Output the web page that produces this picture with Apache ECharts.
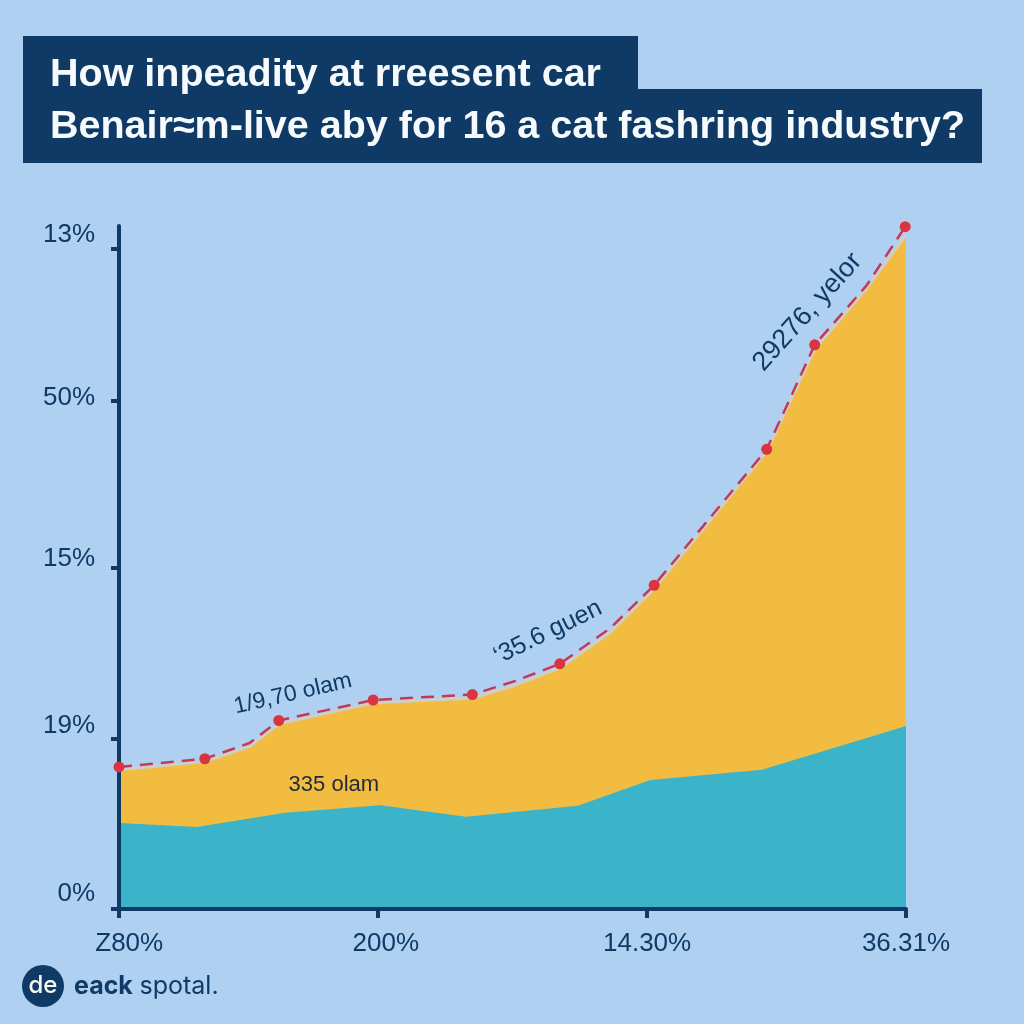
<!DOCTYPE html>
<html><head><meta charset="utf-8">
<style>html,body{margin:0;padding:0;background:#AFD0F0}#c{width:1024px;height:1024px}</style>
<script src="https://cdn.jsdelivr.net/npm/echarts@6/dist/echarts.min.js"></script>
</head><body><div id="c"></div>
<script>
const titleLines = ["How inpeadity at rreesent car", "Benair\u2248m-live aby for 16 a cat fashring industry?"];
const yTickValues = [0, 24.9, 49.9, 74.4, 96.7];
const yLabelValues = [2.2, 26.8, 51.2, 74.8, 98.7];
const yLabels = ["0%", "19%", "15%", "50%", "13%"];
const xTickValues = [0, 32.9, 67.1, 100];
const xLabelValues = [1.3, 33.9, 67.1, 100];
const xLabels = ["Z80%", "200%", "14.30%", "36.31%"];
const redX = [0, 10.9, 16.6, 20.3, 32.3, 44.9, 50.4, 56.0, 62.4, 68.0, 82.3, 88.4, 95.0, 99.9];
const redY = [20.8, 22.0, 24.3, 27.6, 30.6, 31.4, 33.4, 35.9, 41.1, 47.4, 67.3, 82.6, 91.3, 99.9];
const redDot = [1, 1, 0, 1, 1, 1, 0, 1, 0, 1, 1, 1, 0, 1];
const yellowX = [0, 10.9, 16.6, 20.3, 32.3, 44.9, 50.4, 56.0, 62.4, 68.0, 82.3, 88.4, 95.0, 100];
const yellowY = [20.4, 21.6, 23.8, 27.1, 30.2, 30.9, 32.8, 35.3, 40.5, 46.9, 67.0, 82.0, 90.9, 98.7];
const tealX = [0, 9.9, 21.1, 33.2, 44.1, 58.3, 67.5, 81.7, 100];
const tealY = [12.6, 12.0, 14.1, 15.2, 13.5, 15.1, 18.9, 20.4, 26.8];
const notes = [
  {text: "1/9,70 olam", x: 22.1, y: 31.5, rotate: 13, size: 23},
  {text: "335 olam", x: 27.3, y: 18.2, rotate: 0, size: 22, color: "#1d2b3a"},
  {text: "\u201835.6 guen", x: 54.5, y: 40.5, rotate: 26, size: 25},
  {text: "29276, yelor", x: 87.5, y: 87.4, rotate: 48, size: 27}
];
const zip = (a, b) => a.map((v, i) => [v, b[i]]);
const navy = "#0F3A66";
const chart = echarts.init(document.getElementById("c"), null, {renderer: "canvas"});
chart.setOption({
  animation: false,
  backgroundColor: "#AFD0F0",
  textStyle: {fontFamily: "Liberation Sans"},
  title: {
    text: titleLines.join("\n"), left: 45, top: 44,
    textStyle: {color: "#F7FAFC", fontSize: 39.5, fontWeight: "bold", lineHeight: 52, fontFamily: "Liberation Sans"}
  },
  grid: {left: 119, right: 118, top: 226, bottom: 115},
  xAxis: {
    type: "value", min: 0, max: 100, splitLine: {show: false}, z: 10,
    axisLine: {show: true, lineStyle: {color: navy, width: 4}},
    axisTick: {show: true, customValues: xTickValues, length: 9, lineStyle: {color: navy, width: 4}},
    axisLabel: {customValues: xLabelValues, margin: 22, color: navy, fontSize: 26,
      formatter: (v, i) => xLabels[xLabelValues.indexOf(v)]}
  },
  yAxis: {
    type: "value", min: 0, max: 100, splitLine: {show: false}, z: 10,
    axisLine: {show: true, lineStyle: {color: navy, width: 4}},
    axisTick: {show: true, customValues: yTickValues, length: 8, lineStyle: {color: navy, width: 4}},
    axisLabel: {customValues: yLabelValues, margin: 24, color: navy, fontSize: 26,
      formatter: (v, i) => yLabels[yLabelValues.indexOf(v)]}
  },
  series: [
    {name: "Yellow", type: "line", data: zip(yellowX, yellowY), symbol: "none", z: 2,
      lineStyle: {color: "#CFCFC8", width: 3}, areaStyle: {color: "#F2BC40", opacity: 1, origin: "start"}},
    {name: "Teal", type: "line", data: zip(tealX, tealY), symbol: "none", z: 3,
      lineStyle: {width: 0}, areaStyle: {color: "#3BB3C8", opacity: 1, origin: "start"}},
    {name: "Red", type: "line", data: zip(redX, redY), z: 11, clip: false,
      symbol: "circle", symbolSize: (v, p) => redDot[p.dataIndex] ? 11 : 0,
      itemStyle: {color: "#DA3440"},
      lineStyle: {color: "#C23A58", width: 2.5, type: [13, 8]},
      markPoint: {
        symbol: "circle", symbolSize: 0, silent: true,
        data: notes.map(n => ({
          coord: [n.x, n.y],
          label: {show: true, position: "inside", formatter: n.text, rotate: n.rotate,
            fontSize: n.size, color: n.color || navy, fontFamily: "Liberation Sans"}
        }))
      }}
  ],
  graphic: [
    {type: "rect", z: 0, shape: {x: 23, y: 36, width: 615, height: 126}, style: {fill: navy}},
    {type: "rect", z: 0, shape: {x: 23, y: 89, width: 959, height: 74}, style: {fill: navy}},
    {type: "circle", z: 5, shape: {cx: 43, cy: 986, r: 21}, style: {fill: navy}},
    {type: "text", z: 6, x: 43, y: 986, style: {text: "de", fill: "#F4F8F0", font: "500 24px Inter", align: "center", verticalAlign: "middle"}},
    {type: "text", z: 6, x: 74, y: 986, style: {
      text: "{b|eack}  {r|spotal.}", verticalAlign: "middle",
      rich: {b: {font: "bold 25px Inter", fill: navy}, r: {font: "400 25px Inter", fill: navy}}
    }}
  ]
});
</script></body></html>
